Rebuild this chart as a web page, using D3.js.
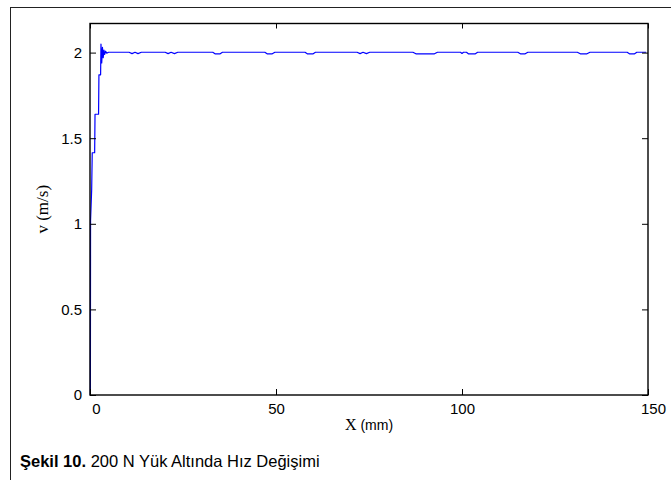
<!DOCTYPE html>
<html>
<head>
<meta charset="utf-8">
<script src="https://cdn.jsdelivr.net/npm/d3@7"></script>
<style>
  body { margin: 0; background: #fff; }
  svg text { fill: #000; }
</style>
</head>
<body>
<svg id="chart"></svg>
<script>
// position along the stroke (mm) and measured speed (m/s)
var posMM = [0, 0.1, 0.15, 0.45, 0.6, 1.25, 1.35, 2.3, 2.4, 2.85, 2.95, 3.15, 3.35, 3.55, 3.75, 3.95, 4.2, 4.5, 5,
    10.5, 11.3, 12.1, 12.9, 13.8, 20.2, 21.0, 21.8, 22.7, 23.6,
    33.0, 33.6, 35.0, 35.6, 47.0, 47.6, 49.0, 49.7, 57.8, 58.4, 60.0, 60.6,
    71.8, 72.6, 73.4, 74.3, 75.2, 86.8, 87.6, 92.6, 93.4,
    99.6, 100.0, 100.4, 101.2, 101.7, 103.6, 104.2, 115.0, 115.7, 117.0, 117.7,
    131.0, 131.8, 133.6, 134.4, 144.4, 145.0, 146.4, 147.0, 149.5];
var speed = [0, 0, 1.02, 1.2, 1.415, 1.415, 1.64, 1.64, 1.87, 1.87, 2.05, 1.94, 2.03, 1.97, 2.015, 1.99, 2.008, 1.997, 2.002,
    2.002, 1.994, 2.002, 1.994, 2.002, 2.002, 1.994, 2.002, 1.994, 2.002,
    2.002, 1.993, 1.993, 2.002, 2.002, 1.993, 1.993, 2.002, 2.002, 1.993, 1.993, 2.002,
    2.002, 1.994, 2.002, 1.994, 2.002, 2.002, 1.993, 1.993, 2.002,
    2.002, 1.995, 2.002, 2.002, 1.993, 1.993, 2.002, 2.002, 1.993, 1.993, 2.002,
    2.002, 1.993, 1.993, 2.002, 2.002, 1.993, 1.993, 2.002, 2.002];
var xTicks = [0, 50, 100, 150];
var yTicks = [0, 0.5, 1, 1.5, 2];
var xLimits = [0, 150], yLimits = [0, 2.17];

var W = 671, H = 480,
    pLeft = 90, pRight = 648, pTop = 23.5, pBottom = 395;

var svg = d3.select('#chart').attr('width', W).attr('height', H);

// outer figure frame
svg.append('rect')
    .attr('x', 10.5).attr('y', 7.5)
    .attr('width', 700).attr('height', 500)
    .attr('fill', 'none').attr('stroke', '#222').attr('stroke-width', 1);

var x = d3.scaleLinear().domain(xLimits).range([pLeft, pRight]);
var y = d3.scaleLinear().domain(yLimits).range([pBottom, pTop]);

var tickFont = '15px "Liberation Sans", Arial, sans-serif';

var line = d3.line()
    .x(function(d, i) { return x(posMM[i]); })
    .y(function(d, i) { return y(speed[i]); });

svg.append('path')
    .datum(speed)
    .attr('d', line)
    .attr('fill', 'none')
    .attr('stroke', '#0000ff')
    .attr('stroke-width', 1.2)
    .attr('stroke-linejoin', 'round');

// axes with inward ticks on all four sides
var xb = svg.append('g').attr('transform', 'translate(0,' + pBottom + ')')
    .call(d3.axisBottom(x).tickValues(xTicks).tickSizeInner(-6).tickSizeOuter(0).tickPadding(5));
var xt = svg.append('g').attr('transform', 'translate(0,' + pTop + ')')
    .call(d3.axisTop(x).tickValues(xTicks).tickSizeInner(-5).tickSizeOuter(0).tickFormat(''));
var yl = svg.append('g').attr('transform', 'translate(' + pLeft + ',0)')
    .call(d3.axisLeft(y).tickValues(yTicks).tickSizeInner(-6).tickSizeOuter(0).tickPadding(8)
        .tickFormat(function(d) { return d; }));
var yr = svg.append('g').attr('transform', 'translate(' + pRight + ',0)')
    .call(d3.axisRight(y).tickValues(yTicks).tickSizeInner(-6).tickSizeOuter(0).tickFormat(''));

[xb, xt, yl, yr].forEach(function(g) {
    g.select('.domain').remove();
    g.selectAll('.tick line').attr('stroke', '#000');
    g.selectAll('.tick text').style('font', tickFont).attr('fill', '#000');
});
xb.selectAll('.tick text').attr('dy', '0.9em')
    .attr('dx', function(d) { return d === 0 ? 6 : (d === 150 ? 5 : 0); });

// plot box
svg.append('rect')
    .attr('x', pLeft).attr('y', pTop)
    .attr('width', pRight - pLeft).attr('height', pBottom - pTop)
    .attr('fill', 'none').attr('stroke', '#000').attr('stroke-width', 1.4);

// axis titles
var xl = svg.append('text')
    .attr('x', (pLeft + pRight) / 2).attr('y', 430)
    .attr('text-anchor', 'middle');
xl.append('tspan').style('font', '16px "Liberation Serif", "Times New Roman", serif').text('X ');
xl.append('tspan').style('font', '14px "Liberation Sans", Arial, sans-serif').text('(mm)');

svg.append('text')
    .attr('transform', 'translate(48,' + ((pTop + pBottom) / 2) + ') rotate(-90)')
    .attr('text-anchor', 'middle')
    .style('font', '17px "Liberation Serif", "Times New Roman", serif')
    .text('v (m/s)');

// caption
var cap = svg.append('text').attr('x', 20).attr('y', 467)
    .style('font', '16.5px "Liberation Sans", Arial, sans-serif');
cap.append('tspan').style('font-weight', 'bold').text('Şekil 10.');
cap.append('tspan').text(' 200 N Yük Altında Hız Değişimi');
</script>
</body>
</html>
